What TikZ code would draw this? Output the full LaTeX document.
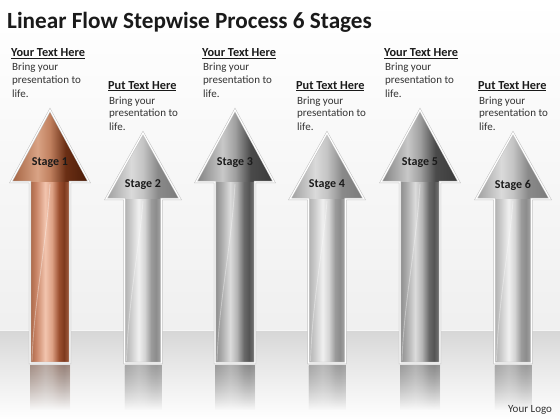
\documentclass[tikz,border=0pt]{standalone}
\usepackage{fontspec}
\setmainfont{Carlito}
\usetikzlibrary{fadings}
\definecolor{txt}{HTML}{1A1A1A}
\definecolor{bodytxt}{HTML}{333333}
\definecolor{cp0}{HTML}{A86646}\definecolor{cp1}{HTML}{C88466}\definecolor{cp2}{HTML}{F2C4AE}
\definecolor{cp3}{HTML}{DDA184}\definecolor{cp4}{HTML}{9C5030}\definecolor{cp5}{HTML}{7E3A1E}\definecolor{cp6}{HTML}{A86446}
\definecolor{ch0}{HTML}{A2613F}\definecolor{ch1}{HTML}{D9A385}\definecolor{ch2}{HTML}{C0805F}\definecolor{ch3}{HTML}{6A2E14}\definecolor{ch4}{HTML}{4A1C08}
\definecolor{dp0}{HTML}{8C8C8C}\definecolor{dp1}{HTML}{A8A8A8}\definecolor{dp2}{HTML}{DCDCDC}
\definecolor{dp3}{HTML}{B4B4B4}\definecolor{dp4}{HTML}{6A6A6A}\definecolor{dp5}{HTML}{555555}\definecolor{dp6}{HTML}{7A7A7A}
\definecolor{dh0}{HTML}{808080}\definecolor{dh1}{HTML}{C8C8C8}\definecolor{dh2}{HTML}{A0A0A0}\definecolor{dh3}{HTML}{4A4A4A}\definecolor{dh4}{HTML}{3A3A3A}
\definecolor{lp0}{HTML}{B0B0B0}\definecolor{lp1}{HTML}{C8C8C8}\definecolor{lp2}{HTML}{F0F0F0}
\definecolor{lp3}{HTML}{D4D4D4}\definecolor{lp4}{HTML}{9A9A9A}\definecolor{lp5}{HTML}{8C8C8C}\definecolor{lp6}{HTML}{A8A8A8}
\definecolor{lh0}{HTML}{9E9E9E}\definecolor{lh1}{HTML}{DADADA}\definecolor{lh2}{HTML}{C4C4C4}\definecolor{lh3}{HTML}{8A8A8A}\definecolor{lh4}{HTML}{7A7A7A}
\pgfdeclarehorizontalshading{cphead}{100bp}{color(0bp)=(ch0); color(25bp)=(ch0); color(42bp)=(ch1); color(50bp)=(ch2); color(60bp)=(ch3); color(75bp)=(ch4); color(100bp)=(ch4)}
\pgfdeclarehorizontalshading{cpshaft}{100bp}{color(0bp)=(cp0); color(25bp)=(cp0); color(32.5bp)=(cp1); color(44bp)=(cp2); color(52.5bp)=(cp3); color(61bp)=(cp4); color(67.5bp)=(cp5); color(75bp)=(cp6); color(100bp)=(cp6)}
\pgfdeclarehorizontalshading{dkhead}{100bp}{color(0bp)=(dh0); color(25bp)=(dh0); color(42bp)=(dh1); color(50bp)=(dh2); color(60bp)=(dh3); color(75bp)=(dh4); color(100bp)=(dh4)}
\pgfdeclarehorizontalshading{dkshaft}{100bp}{color(0bp)=(dp0); color(25bp)=(dp0); color(32.5bp)=(dp1); color(44bp)=(dp2); color(52.5bp)=(dp3); color(61bp)=(dp4); color(67.5bp)=(dp5); color(75bp)=(dp6); color(100bp)=(dp6)}
\pgfdeclarehorizontalshading{lthead}{100bp}{color(0bp)=(lh0); color(25bp)=(lh0); color(42bp)=(lh1); color(50bp)=(lh2); color(60bp)=(lh3); color(75bp)=(lh4); color(100bp)=(lh4)}
\pgfdeclarehorizontalshading{ltshaft}{100bp}{color(0bp)=(lp0); color(25bp)=(lp0); color(32.5bp)=(lp1); color(44bp)=(lp2); color(52.5bp)=(lp3); color(61bp)=(lp4); color(67.5bp)=(lp5); color(75bp)=(lp6); color(100bp)=(lp6)}
\newcommand\stagearrow[6]{%
  \fill[shading=#6shaft, path fading=south, opacity=0.3] (#1-#5,365) rectangle (#1+#5,410);
  \fill[shading=#6head] (#1-#4,#3) -- (#1,#2) -- (#1+#4,#3) -- cycle;
  \fill[shading=#6shaft] (#1-#5,#3) rectangle (#1+#5,363);
  \draw[white, opacity=0.35, line width=0.9pt] (#1-#5+2,361) .. controls (#1-#5+4,300) and (#1-4,250) .. (#1,#3+2);
  \draw[arrowshadow] (#1,#2) -- (#1+#4,#3) -- (#1+#5,#3) -- (#1+#5,363) -- (#1-#5,363) -- (#1-#5,#3) -- (#1-#4,#3) -- cycle;
  \draw[arrowrim] (#1,#2) -- (#1+#4,#3) -- (#1+#5,#3) -- (#1+#5,363) -- (#1-#5,363) -- (#1-#5,#3) -- (#1-#4,#3) -- cycle;
}
\begin{document}
\begin{tikzpicture}[x=1pt,y=-1pt,
  arrowshadow/.style={draw=black!25, line width=2.2pt, line join=miter},
  arrowrim/.style={draw=white, line width=1.2pt, line join=miter},
  heading/.style={font=\bfseries\fontsize{12.3}{14}\selectfont, text=txt, anchor=base west, inner sep=0},
  bodyline/.style={font=\fontsize{11}{13}\selectfont, text=bodytxt, anchor=base west, inner sep=0},
  stagelbl/.style={font=\bfseries\fontsize{12}{14}\selectfont, text=txt, inner sep=0}]
\useasboundingbox (0,0) rectangle (560,420);
% background and floor
\shade[top color=white, bottom color=black!6] (0,0) rectangle (560,330);
\shade[top color=black!16, bottom color=black!9] (0,330) rectangle (560,366);
\shade[top color=black!9, bottom color=white] (0,366) rectangle (560,420);
\draw[white, line width=0.8pt, opacity=0.8] (0,330.5) -- (560,330.5);
% title
\node[anchor=base west, inner sep=0, text=txt, font=\bfseries\fontsize{23.2}{27}\selectfont] (title) at (7,29) {Linear Flow Stepwise Process 6 Stages};
% arrows
\stagearrow{50}{110}{182}{39}{20}{cp}
\stagearrow{143}{133}{199}{37}{18.5}{lt}
\stagearrow{235}{110}{182}{39}{20}{dk}
\stagearrow{327}{133}{199}{37}{18.5}{lt}
\stagearrow{420}{110}{182}{39}{20}{dk}
\stagearrow{513}{133}{199}{37}{18.5}{lt}
% stage labels
\node[stagelbl] (s1) at (50,163) {Stage 1};
\node[stagelbl] (s2) at (143,185) {Stage 2};
\node[stagelbl] (s3) at (235,163) {Stage 3};
\node[stagelbl] (s4) at (327,185) {Stage 4};
\node[stagelbl] (s5) at (420,163) {Stage 5};
\node[stagelbl] (s6) at (513,185) {Stage 6};
% text blocks (upper row)
\foreach \n/\x in {1/11,3/202,5/384}{
  \node[heading] (h\n) at (\x,57) {\underline{Your Text Here}};
  \node[bodyline] (b\n a) at (\x+1,71) {Bring your};
  \node[bodyline] (b\n b) at (\x+1,84) {presentation to};
  \node[bodyline] (b\n c) at (\x+1,97) {life.};
}
% text blocks (lower row)
\foreach \n/\x in {2/108,4/296,6/478}{
  \node[heading] (h\n) at (\x,89) {\underline{Put Text Here}};
  \node[bodyline] (b\n a) at (\x+1,104) {Bring your};
  \node[bodyline] (b\n b) at (\x+1,117) {presentation to};
  \node[bodyline] (b\n c) at (\x+1,130) {life.};
}
\node[bodyline] (logo) at (508,412) {Your Logo};
\end{tikzpicture}
\end{document}
